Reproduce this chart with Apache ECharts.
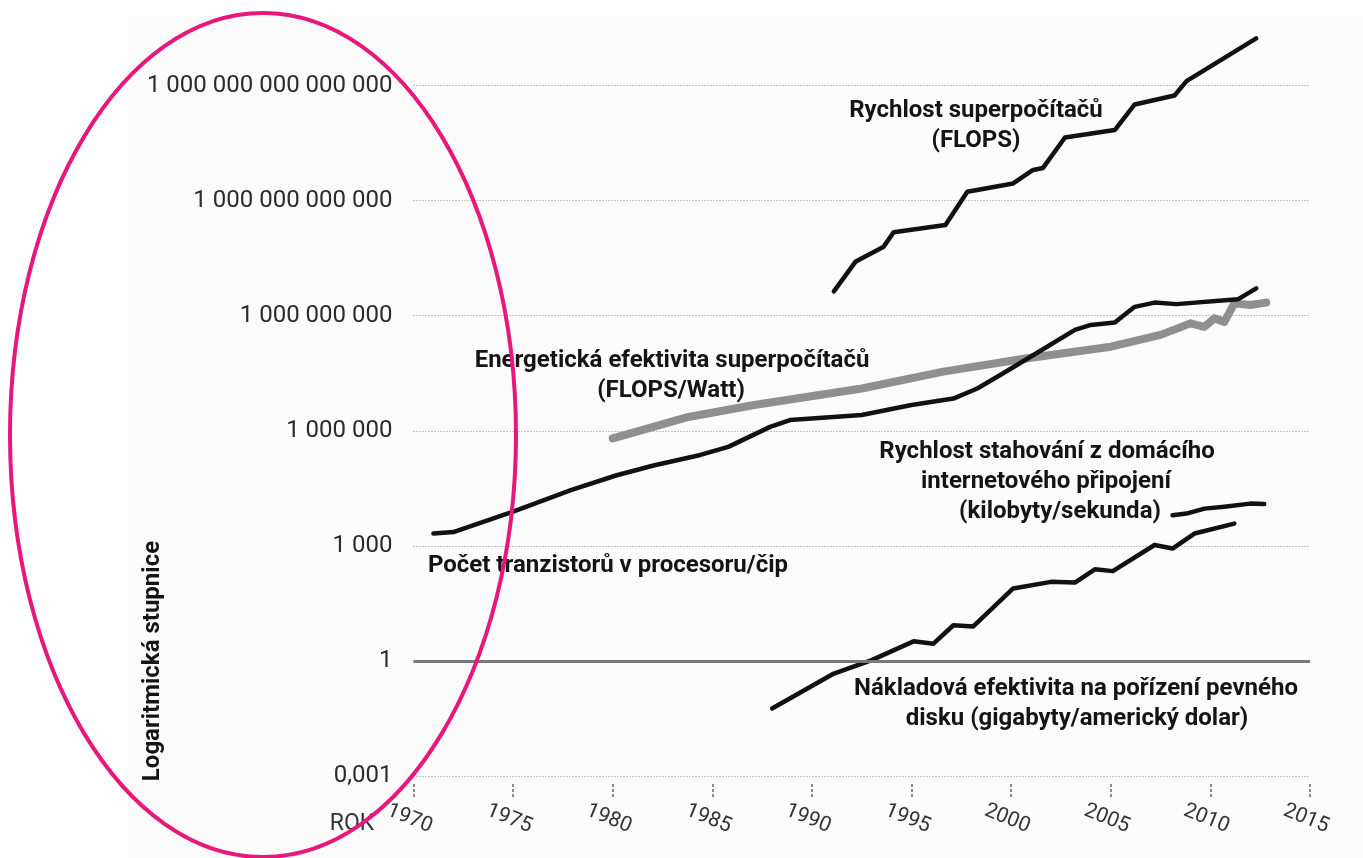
<!DOCTYPE html>
<html>
<head>
<meta charset="utf-8">
<title>Logaritmická stupnice</title>
<script src="https://cdn.jsdelivr.net/npm/echarts@6.0.0/dist/echarts.min.js"></script>
<style>
  html, body { margin: 0; padding: 0; background: #fff; }
  #chart { width: 1363px; height: 858px; }
</style>
</head>
<body>
<div id="chart"></div>
<script>
// osa x / osa y
var xTicks = [1970, 1975, 1980, 1985, 1990, 1995, 2000, 2005, 2010, 2015];
var yTicks = [0.001, 1, 1e3, 1e6, 1e9, 1e12, 1e15];
var yTickLabels = ['0,001', '1', '1 000', '1 000 000', '1 000 000 000', '1 000 000 000 000', '1 000 000 000 000 000'];

// Rychlost superpočítačů (FLOPS)
var flopsYears = [1991.1, 1992.2, 1993.6, 1994.1, 1996.7, 1997.8, 2000.1, 2001.1, 2001.6, 2002.7, 2005.2, 2006.2, 2008.2, 2008.8, 2012.3];
var flopsValues = [4.3e9, 2.6e10, 6.3e10, 1.5e11, 2.3e11, 1.7e12, 2.8e12, 6.3e12, 7.1e12, 4.4e13, 6.9e13, 3.2e14, 5.5e14, 1.3e15, 1.7e16];

// Počet tranzistorů v procesoru/čip
var tranYears = [1971.0, 1972.0, 1975.0, 1977.9, 1980.2, 1982.1, 1984.4, 1985.8, 1987.9, 1988.9, 1992.5, 1995.0, 1997.1, 1998.3, 1999.6, 2001.1, 2003.2, 2004.0, 2005.2, 2006.2, 2007.2, 2008.3, 2010.9, 2011.4, 2012.3];
var tranValues = [2090, 2290, 7760, 28200, 69200, 126000, 234000, 380000, 1.26e6, 1.9e6, 2.57e6, 4.68e6, 6.9e6, 1.26e7, 3.16e7, 9.3e7, 4.27e8, 5.75e8, 6.6e8, 1.7e9, 2.19e9, 2.0e9, 2.57e9, 2.69e9, 5.13e9];

// Energetická efektivita superpočítačů (FLOPS/Watt)
var energyYears = [1980.0, 1983.8, 1987.1, 1992.5, 1996.6, 2000.8, 2005.0, 2007.5, 2009.0, 2009.7, 2010.2, 2010.7, 2011.2, 2012.0, 2012.8];
var energyValues = [6.3e5, 2.29e6, 4.68e6, 1.26e7, 3.47e7, 7.76e7, 1.55e8, 3.16e8, 6.3e8, 5.13e8, 8.5e8, 6.9e8, 2.09e9, 1.9e9, 2.19e9];

// Rychlost stahování (kilobyty/sekunda)
var netYears = [2008.1, 2008.8, 2009.7, 2010.7, 2012.0, 2012.7];
var netValues = [6310, 6920, 9330, 10500, 12600, 12300];

// Nákladová efektivita pevného disku (gigabyty/dolar)
var diskYears = [1988.0, 1991.1, 1993.0, 1995.1, 1996.1, 1997.1, 1998.1, 2000.1, 2002.0, 2003.2, 2004.2, 2005.1, 2007.2, 2008.1, 2009.2, 2011.2];
var diskValues = [0.0575, 0.468, 1.05, 3.24, 2.82, 8.5, 7.9, 77.6, 115, 110, 245, 219, 1050, 851, 2090, 3800];

function pairs(xs, ys) {
    return xs.map(function (x, i) { return [x, ys[i]]; });
}

function yLabel(v) {
    for (var i = 0; i < yTicks.length; i++) {
        if (Math.abs(Math.log10(v) - Math.log10(yTicks[i])) < 0.01) return yTickLabels[i];
    }
    return '';
}

var chart = echarts.init(document.getElementById('chart'));

var blackLine = { color: '#111', width: 4.5, cap: 'round', join: 'round' };
var noteFont = 'bold 24px Roboto';

function note(text, x, y) {
    return {
        type: 'text', x: x, y: y, z: 50,
        style: { text: text, font: noteFont, fill: '#141414', textAlign: 'center', textVerticalAlign: 'middle' }
    };
}

var option = {
    backgroundColor: '#fff',
    animation: false,
    grid: { left: 413.5, right: 53, top: 20, bottom: 82 },
    xAxis: {
        type: 'value',
        min: 1970,
        max: 2015,
        interval: 5,
        offset: 8,
        axisLine: { show: false },
        axisTick: { show: true, length: 14, lineStyle: { type: [3, 2], color: '#666', width: 1.5 } },
        axisLabel: {
            rotate: -22,
            align: 'center',
            verticalAlign: 'top',
            margin: 25,
            fontSize: 21,
            fontFamily: 'Roboto',
            color: '#333',
            formatter: function (v) { return xTicks.indexOf(v) >= 0 ? String(v) : ''; }
        },
        splitLine: { show: false }
    },
    yAxis: {
        type: 'log',
        logBase: 1000,
        min: 0.001,
        max: 5.1e16,
        axisLine: { show: false },
        axisTick: { show: false },
        axisLabel: {
            fontSize: 24,
            fontFamily: 'Roboto',
            color: '#2b2b2b',
            margin: 21,
            showMaxLabel: false,
            formatter: yLabel
        },
        splitLine: {
            show: true,
            showMaxLine: false,
            lineStyle: { type: [1, 2], color: '#8a8a8a', width: 1 }
        }
    },
    graphic: [
        { type: 'rect', z: -100, shape: { x: 128, y: 16, width: 1235, height: 842 }, style: { fill: '#fbfbfb' } },
        note('Rychlost superpočítačů', 976, 111),
        note('(FLOPS)', 976, 141),
        note('Energetická efektivita superpočítačů', 672, 361),
        note('(FLOPS/Watt)', 671, 391),
        note('Rychlost stahování z domácího', 1047, 452),
        note('internetového připojení', 1046, 482),
        note('(kilobyty/sekunda)', 1060, 512),
        note('Počet tranzistorů v procesoru/čip', 608, 566),
        note('Nákladová efektivita na pořízení pevného', 1076, 689),
        note('disku (gigabyty/americký dolar)', 1077, 719),
        {
            type: 'text', x: 153, y: 661, rotation: Math.PI / 2, z: 50,
            style: { text: 'Logaritmická stupnice', font: 'bold 24px Roboto', fill: '#141414', textAlign: 'center', textVerticalAlign: 'middle' }
        },
        {
            type: 'text', x: 352, y: 824, z: 50,
            style: { text: 'ROK', font: '23px Roboto', fill: '#333', textAlign: 'center', textVerticalAlign: 'middle' }
        },
        {
            type: 'ellipse', z: 100,
            shape: { cx: 263, cy: 435, rx: 253, ry: 422 },
            style: { fill: 'none', stroke: '#e8177b', lineWidth: 4 }
        }
    ],
    series: [
        {
            name: 'Energetická efektivita',
            type: 'line',
            data: pairs(energyYears, energyValues),
            symbol: 'none',
            lineStyle: { color: '#8f8f8f', width: 8, cap: 'round', join: 'round' },
            z: 2
        },
        {
            name: 'Tranzistory',
            type: 'line',
            data: pairs(tranYears, tranValues),
            symbol: 'none',
            lineStyle: blackLine,
            z: 3,
            markLine: {
                silent: true,
                symbol: 'none',
                label: { show: false },
                lineStyle: { color: '#787878', width: 3, type: 'solid' },
                data: [{ yAxis: 1 }]
            }
        },
        {
            name: 'FLOPS',
            type: 'line',
            data: pairs(flopsYears, flopsValues),
            symbol: 'none',
            lineStyle: blackLine,
            z: 3
        },
        {
            name: 'Stahování',
            type: 'line',
            data: pairs(netYears, netValues),
            symbol: 'none',
            lineStyle: blackLine,
            z: 3
        },
        {
            name: 'Disk',
            type: 'line',
            data: pairs(diskYears, diskValues),
            symbol: 'none',
            lineStyle: blackLine,
            z: 3
        }
    ]
};

chart.setOption(option);
</script>
</body>
</html>
